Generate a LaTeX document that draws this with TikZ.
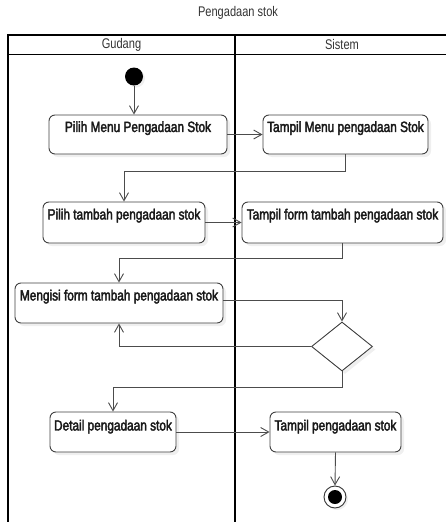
\documentclass[tikz,border=0pt]{standalone}
\usepackage{fontspec}
\setmainfont{Liberation Sans}
\newfontfamily\narrowfont[FakeStretch=0.79]{Liberation Sans}
\newfontfamily\actfont[FakeStretch=0.8,FakeBold=2.5]{Liberation Sans}
\usetikzlibrary{arrows.meta,shapes.geometric,shadows}

\begin{document}
\begin{tikzpicture}[x=1pt,y=-1pt,
  frame/.style={line width=1.2pt, draw=black},
  hdr/.style={font=\narrowfont\fontsize{14}{16}\selectfont, text=black!80, inner sep=0pt},
  act/.style={draw=black!75, line width=0.9pt, rounded corners=6pt, fill=white,
    drop shadow={shadow xshift=3pt, shadow yshift=-3pt, fill=black!12}, inner sep=0pt},
  acttxt/.style={font=\actfont\fontsize{14.8}{16}\selectfont, text=black!90,
    inner sep=0pt, anchor=north},
  flow/.style={draw=black!70, line width=0.9pt, -{Straight Barb[length=8pt,width=9pt]}},
  decision/.style={diamond, draw=black!75, line width=0.9pt, fill=white, inner sep=0pt,
    minimum width=61pt, minimum height=49pt,
    drop shadow={shadow xshift=3pt, shadow yshift=-3pt, fill=black!12}},
]
\useasboundingbox (0,0) rectangle (445,522);

% title
\node[hdr] (title) at (238,13) {Pengadaan stok};

% swimlane frame
\draw[frame] (8,522) -- (8,35) -- (452,35);
\draw[frame] (8,54.5) -- (452,54.5);
\draw[frame] (235,35) -- (235,522);
\node[hdr] (laneA) at (121.5,44.5) {Gudang};
\node[hdr] (laneB) at (342,44.5) {Sistem};

% initial and final nodes
\node[circle, fill=black, minimum size=18pt, inner sep=0pt,
  drop shadow={shadow xshift=2pt, shadow yshift=-2pt, fill=black!12}] (init) at (134,76.5) {};

% activities
\node[act, minimum width=178pt, minimum height=39pt] (b1) at (138,134.5) {};
\node[acttxt] at ([yshift=-6.5pt]b1.north) {Pilih Menu Pengadaan Stok};
\node[act, minimum width=165pt, minimum height=39pt] (b2) at (345.5,134.5) {};
\node[acttxt] at ([yshift=-6.5pt]b2.north) {Tampil Menu pengadaan Stok};

\node[act, minimum width=162pt, minimum height=41pt] (b3) at (124,222.5) {};
\node[acttxt] at ([yshift=-7pt]b3.north) {Pilih tambah pengadaan stok};
\node[act, minimum width=201pt, minimum height=41pt] (b4) at (342.5,222.5) {};
\node[acttxt] at ([yshift=-7pt]b4.north) {Tampil form tambah pengadaan stok};

\node[act, minimum width=208pt, minimum height=40pt] (b5) at (119,303) {};
\node[acttxt] at ([yshift=-7pt]b5.north) {Mengisi form tambah pengadaan stok};

\node[decision] (d) at (342,346.5) {};

\node[act, minimum width=126pt, minimum height=40pt] (b6) at (113,432) {};
\node[acttxt] at ([yshift=-8pt]b6.north) {Detail pengadaan stok};
\node[act, minimum width=131pt, minimum height=40pt] (b7) at (335.5,432) {};
\node[acttxt] at ([yshift=-8pt]b7.north) {Tampil pengadaan stok};

\node[circle, draw=black!80, line width=0.9pt, fill=white, minimum size=22pt, inner sep=0pt,
  drop shadow={shadow xshift=2pt, shadow yshift=-2pt, fill=black!12}] (final) at (335,497) {};
\node[circle, fill=black, minimum size=14pt, inner sep=0pt] (finalin) at (final) {};

% control flow
\draw[flow] (init) -- (init |- b1.north);
\draw[flow] (b1) -- (b2);
\draw[flow] (b2.south) -- ++(0,17) -| (b3.north);
\draw[flow] (b3) -- (b4);
\draw[flow] (b4.south) -- ++(0,15) -| (b5.north);
\draw[flow] ([yshift=3pt]b5.east) -| (d.north);
\draw[flow] (d.west) -| (b5.south);
\draw[flow] (d.south) -- ++(0,16) -| (b6.north);
\draw[flow] (b6) -- (b7);
\draw[flow] (b7.south) -- (final.north);
\end{tikzpicture}
\end{document}
